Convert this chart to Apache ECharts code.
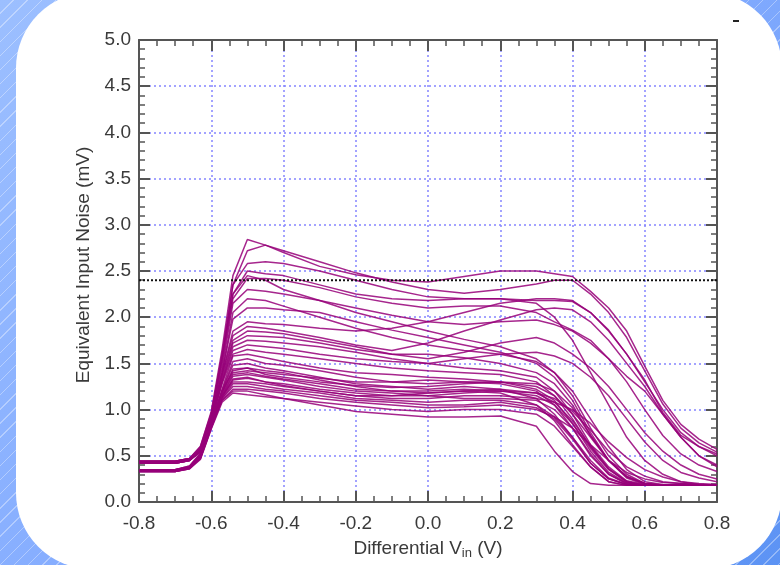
<!DOCTYPE html>
<html>
<head>
<meta charset="utf-8">
<script src="https://cdn.jsdelivr.net/npm/echarts/dist/echarts.min.js"></script>
<style>
  html, body { margin: 0; padding: 0; width: 780px; height: 565px; overflow: hidden; }
  #bg {
    position: absolute; left: 0; top: 0; width: 780px; height: 565px;
    background:
      repeating-linear-gradient(135deg, rgba(255,255,255,0) 0px, rgba(255,255,255,0) 9px, rgba(255,255,255,0.35) 9px, rgba(255,255,255,0.35) 10px),
      linear-gradient(135deg, #9cbfff 0%, #84acff 50%, #5c93f4 100%);
  }
  #panel { position: absolute; left: 16px; top: -8px; width: 766px; height: 577px; background: #fff; border-radius: 76px; }
  #chart { position: absolute; left: 0; top: 0; width: 780px; height: 565px; }
</style>
</head>
<body>
<div id="bg"></div>
<div id="panel"></div>
<div id="chart"></div>
<script>
// Differential input voltage (V) sample points shared by all traces
const VIN = [-0.8, -0.7, -0.66, -0.63, -0.6, -0.57, -0.54, -0.5, -0.45, -0.4, -0.3, -0.2, -0.1, 0.0,
             0.1, 0.2, 0.3, 0.35, 0.4, 0.45, 0.5, 0.55, 0.6, 0.65, 0.7, 0.75, 0.8];

// Equivalent input noise (mV) per measured part
const trace01 = [0.44,0.44,0.47,0.60,0.98,1.65,2.45,2.84,2.78,2.70,2.55,2.46,2.40,2.38,2.44,2.50,2.50,2.47,2.44,2.28,2.10,1.85,1.47,1.10,0.84,0.68,0.57];
const trace02 = [0.34,0.34,0.38,0.52,0.90,1.55,2.35,2.72,2.78,2.72,2.60,2.48,2.38,2.30,2.26,2.30,2.36,2.40,2.40,2.25,2.05,1.78,1.42,1.06,0.80,0.64,0.54];
const trace03 = [0.43,0.43,0.46,0.58,0.95,1.60,2.35,2.58,2.60,2.58,2.50,2.40,2.30,2.22,2.20,2.20,2.18,2.18,2.17,2.05,1.86,1.60,1.32,0.97,0.72,0.60,0.52];
const trace04 = [0.35,0.35,0.39,0.53,0.92,1.55,2.25,2.50,2.47,2.45,2.35,2.25,2.20,2.18,2.20,2.20,2.15,2.00,1.75,1.40,1.05,0.70,0.45,0.30,0.22,0.19,0.18];
const trace05 = [0.44,0.44,0.47,0.60,0.96,1.58,2.25,2.45,2.40,2.30,2.18,2.05,1.95,1.85,1.76,1.68,1.55,1.40,1.15,0.80,0.50,0.30,0.20,0.18,0.18,0.18,0.18];
const trace06 = [0.33,0.33,0.37,0.50,0.90,1.50,2.20,2.42,2.42,2.40,2.32,2.22,2.15,2.10,2.12,2.12,2.05,1.95,1.86,1.75,1.55,1.30,1.00,0.72,0.52,0.40,0.33];
const trace07 = [0.43,0.43,0.46,0.57,0.92,1.45,2.15,2.30,2.28,2.25,2.18,2.10,2.02,1.95,1.92,1.95,1.97,1.92,1.85,1.72,1.55,1.36,1.20,0.95,0.70,0.50,0.38];
const trace08 = [0.34,0.34,0.38,0.50,0.88,1.40,2.05,2.20,2.18,2.12,2.00,1.88,1.78,1.70,1.64,1.60,1.52,1.40,1.20,0.90,0.60,0.35,0.22,0.19,0.18,0.18,0.18];
const trace09 = [0.42,0.42,0.45,0.56,0.90,1.40,1.98,2.10,2.10,2.08,2.05,1.95,1.86,1.78,1.70,1.62,1.50,1.35,1.10,0.75,0.45,0.26,0.19,0.18,0.18,0.18,0.18];
const trace10 = [0.35,0.35,0.39,0.52,0.88,1.38,1.85,1.95,1.93,1.92,1.88,1.85,1.88,1.95,2.05,2.15,2.20,2.20,2.18,2.05,1.85,1.60,1.30,1.00,0.75,0.60,0.50];
const trace11 = [0.43,0.43,0.46,0.57,0.90,1.38,1.80,1.90,1.88,1.85,1.78,1.70,1.64,1.72,1.85,1.97,2.08,2.10,2.08,1.95,1.75,1.50,1.25,0.95,0.70,0.50,0.40];
const trace12 = [0.34,0.34,0.38,0.50,0.86,1.35,1.75,1.85,1.84,1.82,1.75,1.68,1.60,1.55,1.62,1.72,1.78,1.72,1.60,1.45,1.25,1.00,0.75,0.55,0.40,0.30,0.25];
const trace13 = [0.42,0.42,0.45,0.56,0.88,1.32,1.72,1.80,1.79,1.78,1.72,1.65,1.60,1.60,1.56,1.50,1.40,1.28,1.05,0.72,0.45,0.27,0.20,0.18,0.18,0.18,0.18];
const trace14 = [0.33,0.33,0.37,0.49,0.86,1.30,1.68,1.75,1.74,1.72,1.68,1.62,1.55,1.50,1.45,1.42,1.35,1.20,0.95,0.62,0.38,0.23,0.19,0.18,0.18,0.18,0.18];
const trace15 = [0.44,0.44,0.47,0.58,0.88,1.30,1.64,1.70,1.68,1.66,1.60,1.55,1.52,1.50,1.55,1.60,1.62,1.58,1.50,1.35,1.15,0.90,0.65,0.45,0.32,0.26,0.22];
const trace16 = [0.35,0.35,0.38,0.50,0.86,1.28,1.60,1.65,1.62,1.60,1.55,1.50,1.45,1.42,1.40,1.38,1.30,1.15,0.90,0.60,0.36,0.22,0.18,0.18,0.18,0.18,0.18];
const trace17 = [0.43,0.43,0.46,0.56,0.86,1.22,1.58,1.60,1.56,1.52,1.45,1.40,1.38,1.35,1.33,1.30,1.22,1.10,0.85,0.55,0.32,0.21,0.18,0.18,0.18,0.18,0.18];
const trace18 = [0.34,0.34,0.37,0.49,0.84,1.20,1.52,1.55,1.50,1.48,1.42,1.35,1.30,1.32,1.30,1.28,1.20,1.05,0.80,0.50,0.30,0.20,0.18,0.18,0.18,0.18,0.18];
const trace19 = [0.42,0.42,0.45,0.55,0.85,1.20,1.48,1.50,1.45,1.42,1.35,1.28,1.25,1.22,1.25,1.22,1.12,0.95,0.70,0.42,0.25,0.19,0.18,0.18,0.18,0.18,0.18];
const trace20 = [0.33,0.33,0.36,0.48,0.82,1.18,1.44,1.45,1.42,1.40,1.32,1.25,1.20,1.18,1.20,1.18,1.05,0.88,0.62,0.38,0.22,0.18,0.18,0.18,0.18,0.18,0.18];
const trace21 = [0.44,0.44,0.46,0.56,0.85,1.18,1.40,1.42,1.40,1.38,1.34,1.30,1.30,1.28,1.30,1.30,1.25,1.15,0.95,0.70,0.45,0.28,0.20,0.18,0.18,0.18,0.18];
const trace22 = [0.35,0.35,0.38,0.49,0.83,1.16,1.38,1.40,1.36,1.33,1.28,1.22,1.20,1.20,1.22,1.20,1.15,1.05,0.85,0.58,0.35,0.22,0.18,0.18,0.18,0.18,0.18];
const trace23 = [0.43,0.43,0.46,0.55,0.84,1.15,1.36,1.38,1.35,1.32,1.25,1.20,1.18,1.15,1.18,1.20,1.18,1.12,0.98,0.78,0.55,0.38,0.28,0.22,0.20,0.19,0.18];
const trace24 = [0.34,0.34,0.37,0.48,0.82,1.14,1.33,1.35,1.30,1.28,1.22,1.18,1.15,1.15,1.12,1.12,1.10,1.00,0.80,0.52,0.30,0.20,0.18,0.18,0.18,0.18,0.18];
const trace25 = [0.42,0.42,0.45,0.55,0.84,1.14,1.30,1.30,1.28,1.25,1.20,1.15,1.12,1.12,1.15,1.15,1.12,1.08,1.00,0.85,0.65,0.48,0.35,0.27,0.22,0.20,0.19];
const trace26 = [0.33,0.33,0.36,0.47,0.80,1.12,1.28,1.28,1.25,1.22,1.18,1.12,1.10,1.08,1.10,1.10,1.05,0.92,0.70,0.45,0.26,0.19,0.18,0.18,0.18,0.18,0.18];
const trace27 = [0.43,0.43,0.46,0.54,0.83,1.12,1.25,1.25,1.22,1.20,1.15,1.10,1.08,1.05,1.05,1.08,1.02,0.90,0.68,0.42,0.25,0.19,0.18,0.18,0.18,0.18,0.18];
const trace28 = [0.34,0.34,0.37,0.47,0.80,1.10,1.22,1.22,1.20,1.18,1.12,1.08,1.05,1.02,1.03,1.05,1.00,0.92,0.80,0.62,0.45,0.32,0.25,0.21,0.20,0.19,0.18];
const trace29 = [0.42,0.42,0.45,0.54,0.82,1.10,1.20,1.20,1.16,1.12,1.08,1.04,1.00,0.98,1.00,1.00,0.95,0.82,0.60,0.38,0.22,0.18,0.18,0.18,0.18,0.18,0.18];
const trace30 = [0.33,0.33,0.36,0.46,0.79,1.08,1.18,1.16,1.14,1.12,1.05,0.98,0.95,0.92,0.92,0.93,0.82,0.55,0.33,0.20,0.18,0.18,0.18,0.18,0.18,0.18,0.18];
const trace31 = [0.44,0.44,0.47,0.57,0.86,1.20,1.42,1.45,1.38,1.35,1.30,1.26,1.24,1.25,1.28,1.30,1.28,1.20,1.02,0.72,0.45,0.27,0.20,0.18,0.18,0.18,0.18];
const trace32 = [0.35,0.35,0.38,0.48,0.82,1.14,1.32,1.34,1.30,1.26,1.20,1.15,1.15,1.18,1.20,1.22,1.18,1.08,0.88,0.60,0.36,0.22,0.18,0.18,0.18,0.18,0.18];

const TRACES = [trace01, trace02, trace03, trace04, trace05, trace06, trace07, trace08,
                trace09, trace10, trace11, trace12, trace13, trace14, trace15, trace16,
                trace17, trace18, trace19, trace20, trace21, trace22, trace23, trace24,
                trace25, trace26, trace27, trace28, trace29, trace30, trace31, trace32];

// Specification limit (mV)
const LIMIT_MV = 2.4;

// Tick labels
const X_TICKS = ['-0.8', '-0.6', '-0.4', '-0.2', '0.0', '0.2', '0.4', '0.6', '0.8'];
const Y_TICKS = ['0.0', '0.5', '1.0', '1.5', '2.0', '2.5', '3.0', '3.5', '4.0', '4.5', '5.0'];

const FONT = 'Liberation Sans, Arial, sans-serif';
const FRAME = '#555';
const GRID_BLUE = '#8585ff';
const TRACE_COLOR = '#970079';
const TEXT = '#3a3a3a';

function frameAxis(extra) {
  return Object.assign({
    type: 'value',
    axisLine: { show: true, onZero: false, lineStyle: { color: FRAME, width: 2 } },
    axisTick: { show: true, inside: true, length: 11, lineStyle: { color: FRAME, width: 2 } },
    minorTick: { show: true, length: 6, lineStyle: { color: FRAME, width: 1.5 } },
    splitLine: { show: false }
  }, extra);
}

const gridLine = { show: true, showMinLine: false, showMaxLine: false,
  lineStyle: { color: GRID_BLUE, width: 1.5, type: [2, 3] } };

const chart = echarts.init(document.getElementById('chart'), null, { renderer: 'canvas' });

const series = TRACES.map(function (t, k) {
  return {
    name: 'part' + (k + 1),
    type: 'line',
    data: VIN.map(function (x, i) { return [x, t[i]]; }),
    showSymbol: false,
    symbol: 'none',
    silent: true,
    z: 3,
    lineStyle: { color: TRACE_COLOR, width: 1.5, opacity: 0.85 }
  };
});

series.push({
  name: 'limit',
  type: 'line',
  data: [[VIN[0], LIMIT_MV], [VIN[VIN.length - 1], LIMIT_MV]],
  showSymbol: false,
  symbol: 'none',
  silent: true,
  z: 5,
  lineStyle: { color: '#111', width: 2, type: [2, 2] }
});

chart.setOption({
  animation: false,
  backgroundColor: 'transparent',
  grid: { left: 139, right: 63, top: 40, bottom: 63 },
  xAxis: [
    frameAxis({
      position: 'bottom', min: -0.8, max: 0.8, interval: 0.2,
      minorTick: { show: true, splitNumber: 4, length: 6, lineStyle: { color: FRAME, width: 1.5 } },
      axisLabel: {
        margin: 12, fontSize: 19, color: TEXT, fontFamily: FONT,
        formatter: function (v) { return X_TICKS[Math.round((v + 0.8) / 0.2)]; }
      },
      splitLine: gridLine,
      name: 'Differential V{sub|in} (V)',
      nameLocation: 'middle',
      nameGap: 35,
      nameTextStyle: {
        fontSize: 19, color: TEXT, fontFamily: FONT,
        rich: { sub: { fontSize: 13, color: TEXT, fontFamily: FONT, padding: [10, 0, 0, 0] } }
      }
    }),
    frameAxis({
      position: 'top', min: -0.8, max: 0.8, interval: 0.2,
      minorTick: { show: true, splitNumber: 4, length: 6, lineStyle: { color: FRAME, width: 1.5 } },
      axisLabel: { show: false }
    })
  ],
  yAxis: [
    frameAxis({
      position: 'left', min: 0, max: 5, interval: 0.5,
      minorTick: { show: true, splitNumber: 5, length: 6, lineStyle: { color: FRAME, width: 1.5 } },
      axisLabel: {
        margin: 8, fontSize: 19, color: TEXT, fontFamily: FONT,
        formatter: function (v) { return Y_TICKS[Math.round(v / 0.5)]; }
      },
      splitLine: gridLine,
      name: 'Equivalent Input Noise (mV)',
      nameLocation: 'middle',
      nameGap: 41,
      nameRotate: 90,
      nameTextStyle: { fontSize: 19, color: TEXT, fontFamily: FONT, padding: [0, 0, 0, 12] }
    }),
    frameAxis({
      position: 'right', min: 0, max: 5, interval: 0.5,
      minorTick: { show: true, splitNumber: 5, length: 6, lineStyle: { color: FRAME, width: 1.5 } },
      axisLabel: { show: false }
    })
  ],
  graphic: [
    { type: 'line', silent: true, shape: { x1: 733, y1: 21, x2: 739, y2: 21 },
      style: { stroke: '#222', lineWidth: 2 } }
  ],
  series: series
});
</script>
</body>
</html>
